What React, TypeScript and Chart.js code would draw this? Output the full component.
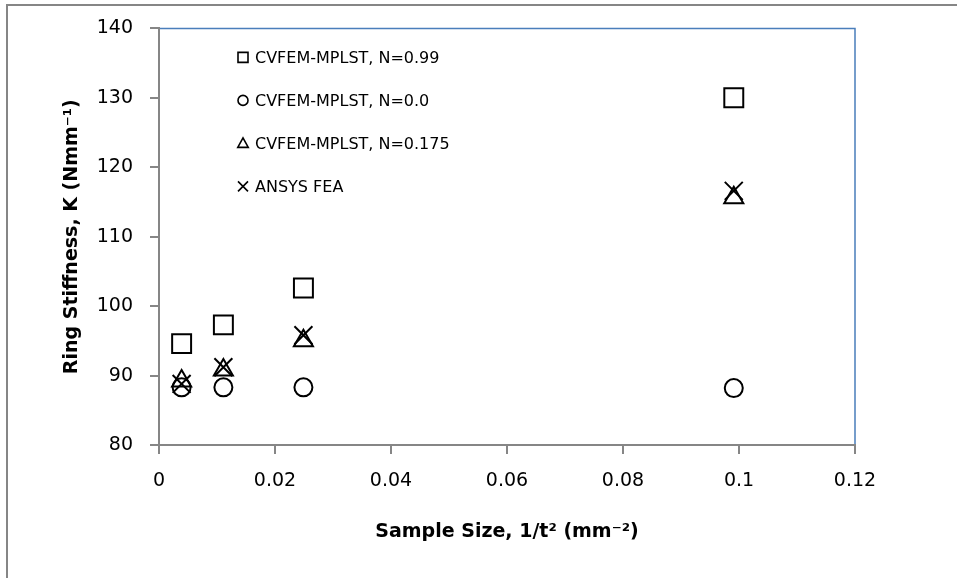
import React, { useEffect, useRef } from 'react';
import { Chart, registerables } from 'chart.js';

Chart.register(...registerables);

// ---- data ----
const sampleSizes = [0.0039, 0.0111, 0.0249, 0.0991];
const stiffnessN099 = [94.6, 97.3, 102.6, 130.0];
const stiffnessN000 = [88.3, 88.3, 88.3, 88.2];
const stiffnessN0175 = [89.2, 90.8, 95.0, 115.6];
const stiffnessAnsys = [88.8, 91.2, 95.8, 116.6];
const seriesLabels = ['CVFEM-MPLST, N=0.99', 'CVFEM-MPLST, N=0.0', 'CVFEM-MPLST, N=0.175', 'ANSYS FEA'];
const seriesStyles = ['rect', 'circle', 'triangle', 'crossRot'];
const xAxisRange = [0, 0.12, 0.02];
const yAxisRange = [80, 140, 10];
const xTitle = 'Sample Size, 1/t\u00B2 (mm\u207B\u00B2)';
const yTitle = 'Ring Stiffness, K (Nmm\u207B\u00B9)';

const FONT = "'DejaVu Sans', sans-serif";
const AXIS_GREY = '#868686';

function drawMarker(ctx: CanvasRenderingContext2D, style: string, x: number, y: number, s: number) {
  ctx.beginPath();
  if (style === 'rect') {
    ctx.rect(x - s, y - s, 2 * s, 2 * s);
  } else if (style === 'circle') {
    ctx.arc(x, y, s, 0, Math.PI * 2);
  } else if (style === 'triangle') {
    ctx.moveTo(x, y - s * 1.1);
    ctx.lineTo(x + s * 1.05, y + s * 0.8);
    ctx.lineTo(x - s * 1.05, y + s * 0.8);
    ctx.closePath();
  } else {
    ctx.moveTo(x - s, y - s);
    ctx.lineTo(x + s, y + s);
    ctx.moveTo(x + s, y - s);
    ctx.lineTo(x - s, y + s);
  }
  ctx.stroke();
}

const framePlugin = {
  id: 'frame',
  beforeDraw(chart: any) {
    const ctx = chart.ctx;
    ctx.save();
    ctx.fillStyle = '#ffffff';
    ctx.fillRect(0, 0, chart.width, chart.height);
    ctx.strokeStyle = AXIS_GREY;
    ctx.lineWidth = 2;
    ctx.beginPath();
    ctx.moveTo(7, chart.height);
    ctx.lineTo(7, 5);
    ctx.lineTo(chart.width, 5);
    ctx.stroke();
    ctx.restore();
  },
  afterDraw(chart: any) {
    const { ctx, chartArea } = chart;
    ctx.save();
    ctx.strokeStyle = '#4a7ebb';
    ctx.lineWidth = 1.5;
    ctx.beginPath();
    ctx.moveTo(chartArea.left + 1, chartArea.top);
    ctx.lineTo(chartArea.right, chartArea.top);
    ctx.lineTo(chartArea.right, chartArea.bottom - 1);
    ctx.stroke();

    // legend inside plot area
    ctx.fillStyle = '#000';
    ctx.strokeStyle = '#000';
    ctx.lineWidth = 1.6;
    ctx.font = `16px ${FONT}`;
    ctx.textBaseline = 'middle';
    ctx.textAlign = 'left';
    const x0 = chartArea.left + 84;
    chart.data.datasets.forEach((ds: any, i: number) => {
      const y = chartArea.top + 29 + i * 43;
      drawMarker(ctx, seriesStyles[i], x0, y, 5);
      ctx.fillText(ds.label, x0 + 12, y + 1);
    });
    ctx.restore();
  },
};

export default function App() {
  const ref = useRef<HTMLCanvasElement | null>(null);

  useEffect(() => {
    if (!ref.current) return;
    const seriesValues = [stiffnessN099, stiffnessN000, stiffnessN0175, stiffnessAnsys];
    const radii = [13.4, 9, 11, 12.7];
    const chart = new Chart(ref.current, {
      type: 'scatter',
      data: {
        datasets: seriesValues.map((vals, i) => ({
          label: seriesLabels[i],
          data: sampleSizes.map((x, j) => ({ x, y: vals[j] })),
          pointStyle: seriesStyles[i] as any,
          pointRadius: radii[i],
          pointHoverRadius: radii[i],
          pointBorderWidth: 2,
          pointBorderColor: '#000',
          pointBackgroundColor: 'rgba(0,0,0,0)',
          borderColor: '#000',
          backgroundColor: 'rgba(0,0,0,0)',
          showLine: false,
        })),
      },
      options: {
        responsive: false,
        devicePixelRatio: 1,
        animation: false,
        layout: { padding: { left: 0, top: 24, right: 102, bottom: 0 } },
        plugins: {
          legend: { display: false },
          tooltip: { enabled: false },
        },
        scales: {
          x: {
            type: 'linear',
            min: xAxisRange[0],
            max: xAxisRange[1],
            afterFit: (s: any) => { s.height = 133; },
            ticks: {
              stepSize: xAxisRange[2],
              padding: 16,
              color: '#000',
              font: { family: FONT, size: 19 },
              callback: (v: any) => String(Math.round(Number(v) * 100) / 100),
            },
            grid: { display: true, drawOnChartArea: false, drawTicks: true, tickLength: 9, color: AXIS_GREY, lineWidth: 2 },
            border: { display: true, color: AXIS_GREY, width: 2 },
            title: {
              display: true,
              text: xTitle,
              color: '#000',
              font: { family: FONT, size: 19, weight: 'bold' },
              padding: { top: 0, bottom: 35 },
            },
          },
          y: {
            type: 'linear',
            min: yAxisRange[0],
            max: yAxisRange[1],
            afterFit: (s: any) => { s.width = 159; },
            ticks: {
              stepSize: yAxisRange[2],
              padding: 17,
              color: '#000',
              font: { family: FONT, size: 19 },
            },
            grid: { display: true, drawOnChartArea: false, drawTicks: true, tickLength: 9, color: AXIS_GREY, lineWidth: 2 },
            border: { display: true, color: AXIS_GREY, width: 2 },
            title: {
              display: true,
              text: yTitle,
              color: '#000',
              font: { family: FONT, size: 19, weight: 'bold' },
              padding: { top: 61, bottom: 0 },
            },
          },
        },
      },
      plugins: [framePlugin],
    });
    return () => chart.destroy();
  }, []);

  return (
    <div style={{ position: 'fixed', left: 0, top: 0, width: 957, height: 578, background: '#fff' }}>
      <canvas ref={ref} width={957} height={578} style={{ display: 'block' }} />
    </div>
  );
}
